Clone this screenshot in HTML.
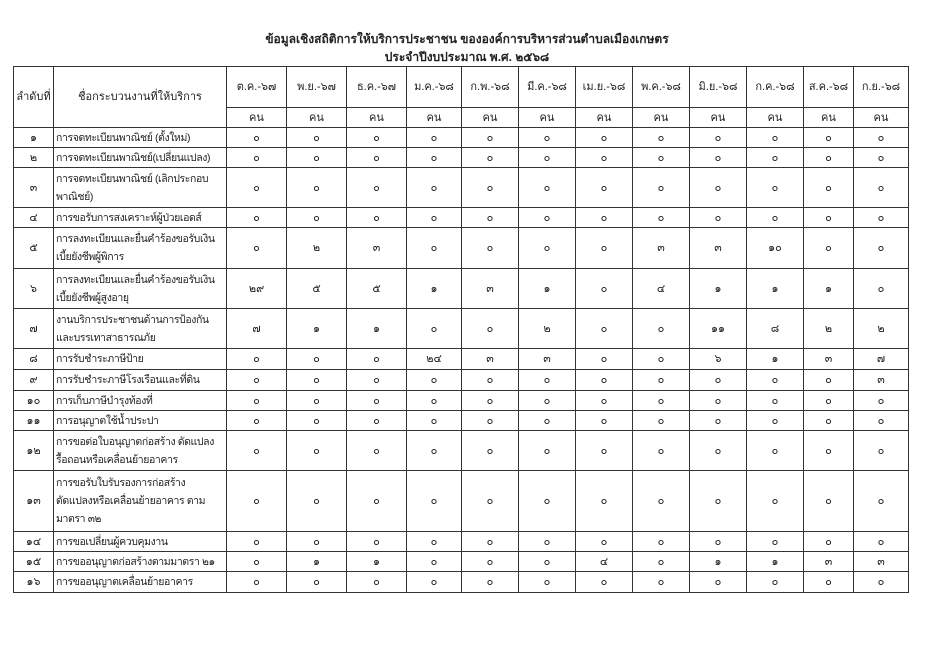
<!DOCTYPE html>
<html><head><meta charset="utf-8"><style>
html,body{margin:0;padding:0;background:#fff;width:934px;height:660px;overflow:hidden}
body{font-family:"Liberation Sans","DejaVu Sans",sans-serif;color:#222}
.t1{position:absolute;left:0;width:934px;text-align:center;font-size:12px;font-weight:bold;white-space:nowrap}
table{position:absolute;left:13px;top:66px;border-collapse:collapse;table-layout:fixed;font-size:11px}
td{border:1.5px solid #333;padding:0;text-align:center;vertical-align:middle;line-height:18px;white-space:nowrap;overflow:hidden}
td.n{text-align:left;padding-left:2px;letter-spacing:-0.4px;font-size:10.5px}
</style></head><body>
<div class="t1" style="top:30px">ข้อมูลเชิงสถิติการให้บริการประชาชน ขององค์การบริหารส่วนตำบลเมืองเกษตร</div>
<div class="t1" style="top:48px">ประจำปีงบประมาณ พ.ศ. ๒๕๖๘</div>
<table>
<colgroup><col style="width:40px"><col style="width:173px"><col style="width:60px"><col style="width:60px"><col style="width:60px"><col style="width:55px"><col style="width:57px"><col style="width:57px"><col style="width:57px"><col style="width:57px"><col style="width:57px"><col style="width:57px"><col style="width:50px"><col style="width:55px"></colgroup>
<tr style="height:41px"><td rowspan="2">ลำดับที่</td><td rowspan="2">ชื่อกระบวนงานที่ให้บริการ</td><td>ต.ค.-๖๗</td><td>พ.ย.-๖๗</td><td>ธ.ค.-๖๗</td><td>ม.ค.-๖๘</td><td>ก.พ.-๖๘</td><td>มี.ค.-๖๘</td><td>เม.ย.-๖๘</td><td>พ.ค.-๖๘</td><td>มิ.ย.-๖๘</td><td>ก.ค.-๖๘</td><td>ส.ค.-๖๘</td><td>ก.ย.-๖๘</td></tr>
<tr style="height:20px"><td>คน</td><td>คน</td><td>คน</td><td>คน</td><td>คน</td><td>คน</td><td>คน</td><td>คน</td><td>คน</td><td>คน</td><td>คน</td><td>คน</td></tr>
<tr style="height:20px"><td>๑</td><td class="n">การจดทะเบียนพาณิชย์ (ตั้งใหม่)</td><td>๐</td><td>๐</td><td>๐</td><td>๐</td><td>๐</td><td>๐</td><td>๐</td><td>๐</td><td>๐</td><td>๐</td><td>๐</td><td>๐</td></tr>
<tr style="height:20px"><td>๒</td><td class="n">การจดทะเบียนพาณิชย์(เปลี่ยนแปลง)</td><td>๐</td><td>๐</td><td>๐</td><td>๐</td><td>๐</td><td>๐</td><td>๐</td><td>๐</td><td>๐</td><td>๐</td><td>๐</td><td>๐</td></tr>
<tr style="height:40px"><td>๓</td><td class="n">การจดทะเบียนพาณิชย์ (เลิกประกอบ<br>พาณิชย์)</td><td>๐</td><td>๐</td><td>๐</td><td>๐</td><td>๐</td><td>๐</td><td>๐</td><td>๐</td><td>๐</td><td>๐</td><td>๐</td><td>๐</td></tr>
<tr style="height:20px"><td>๔</td><td class="n">การขอรับการสงเคราะห์ผู้ป่วยเอดส์</td><td>๐</td><td>๐</td><td>๐</td><td>๐</td><td>๐</td><td>๐</td><td>๐</td><td>๐</td><td>๐</td><td>๐</td><td>๐</td><td>๐</td></tr>
<tr style="height:41px"><td>๕</td><td class="n">การลงทะเบียนและยื่นคำร้องขอรับเงิน<br>เบี้ยยังชีพผู้พิการ</td><td>๐</td><td>๒</td><td>๓</td><td>๐</td><td>๐</td><td>๐</td><td>๐</td><td>๓</td><td>๓</td><td>๑๐</td><td>๐</td><td>๐</td></tr>
<tr style="height:40px"><td>๖</td><td class="n">การลงทะเบียนและยื่นคำร้องขอรับเงิน<br>เบี้ยยังชีพผู้สูงอายุ</td><td>๒๙</td><td>๕</td><td>๕</td><td>๑</td><td>๓</td><td>๑</td><td>๐</td><td>๔</td><td>๑</td><td>๑</td><td>๑</td><td>๐</td></tr>
<tr style="height:40px"><td>๗</td><td class="n">งานบริการประชาชนด้านการป้องกัน<br>และบรรเทาสาธารณภัย</td><td>๗</td><td>๑</td><td>๑</td><td>๐</td><td>๐</td><td>๒</td><td>๐</td><td>๐</td><td>๑๑</td><td>๘</td><td>๒</td><td>๒</td></tr>
<tr style="height:21px"><td>๘</td><td class="n">การรับชำระภาษีป้าย</td><td>๐</td><td>๐</td><td>๐</td><td>๒๔</td><td>๓</td><td>๓</td><td>๐</td><td>๐</td><td>๖</td><td>๑</td><td>๓</td><td>๗</td></tr>
<tr style="height:21px"><td>๙</td><td class="n">การรับชำระภาษีโรงเรือนและที่ดิน</td><td>๐</td><td>๐</td><td>๐</td><td>๐</td><td>๐</td><td>๐</td><td>๐</td><td>๐</td><td>๐</td><td>๐</td><td>๐</td><td>๓</td></tr>
<tr style="height:20px"><td>๑๐</td><td class="n">การเก็บภาษีบำรุงท้องที่</td><td>๐</td><td>๐</td><td>๐</td><td>๐</td><td>๐</td><td>๐</td><td>๐</td><td>๐</td><td>๐</td><td>๐</td><td>๐</td><td>๐</td></tr>
<tr style="height:20px"><td>๑๑</td><td class="n">การอนุญาตใช้น้ำประปา</td><td>๐</td><td>๐</td><td>๐</td><td>๐</td><td>๐</td><td>๐</td><td>๐</td><td>๐</td><td>๐</td><td>๐</td><td>๐</td><td>๐</td></tr>
<tr style="height:40px"><td>๑๒</td><td class="n">การขอต่อใบอนุญาตก่อสร้าง ดัดแปลง<br>รื้อถอนหรือเคลื่อนย้ายอาคาร</td><td>๐</td><td>๐</td><td>๐</td><td>๐</td><td>๐</td><td>๐</td><td>๐</td><td>๐</td><td>๐</td><td>๐</td><td>๐</td><td>๐</td></tr>
<tr style="height:61px"><td>๑๓</td><td class="n">การขอรับใบรับรองการก่อสร้าง<br>ดัดแปลงหรือเคลื่อนย้ายอาคาร ตาม<br>มาตรา ๓๒</td><td>๐</td><td>๐</td><td>๐</td><td>๐</td><td>๐</td><td>๐</td><td>๐</td><td>๐</td><td>๐</td><td>๐</td><td>๐</td><td>๐</td></tr>
<tr style="height:20px"><td>๑๔</td><td class="n">การขอเปลี่ยนผู้ควบคุมงาน</td><td>๐</td><td>๐</td><td>๐</td><td>๐</td><td>๐</td><td>๐</td><td>๐</td><td>๐</td><td>๐</td><td>๐</td><td>๐</td><td>๐</td></tr>
<tr style="height:20px"><td>๑๕</td><td class="n">การขออนุญาตก่อสร้างตามมาตรา ๒๑</td><td>๐</td><td>๑</td><td>๑</td><td>๐</td><td>๐</td><td>๐</td><td>๔</td><td>๐</td><td>๑</td><td>๑</td><td>๓</td><td>๓</td></tr>
<tr style="height:21px"><td>๑๖</td><td class="n">การขออนุญาตเคลื่อนย้ายอาคาร</td><td>๐</td><td>๐</td><td>๐</td><td>๐</td><td>๐</td><td>๐</td><td>๐</td><td>๐</td><td>๐</td><td>๐</td><td>๐</td><td>๐</td></tr>
</table>
</body></html>
